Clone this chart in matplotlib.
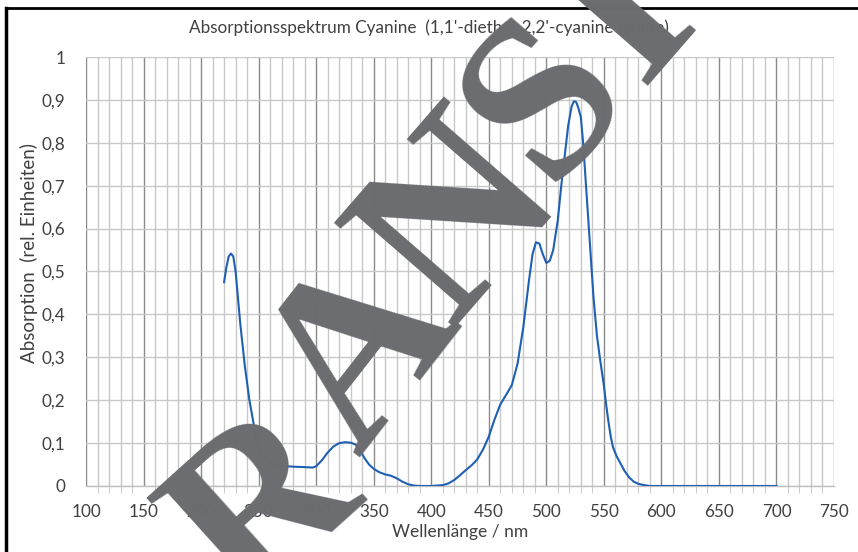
import matplotlib
matplotlib.use("Agg")
import matplotlib.pyplot as plt
from matplotlib.ticker import MultipleLocator, FuncFormatter
from matplotlib.lines import Line2D

# ---- data ----
wavelength_nm = [220, 222, 224, 226, 228, 230, 232, 234, 236, 238, 240, 242, 244, 246, 248,
                 250, 252, 255, 258, 262, 266, 270, 280, 290, 297, 300, 305, 310, 315, 320,
                 325, 330, 334, 338, 342, 346, 350, 355, 360, 365, 370, 375, 380, 385, 390,
                 400, 410, 415, 420, 425, 430, 435, 440, 445, 450, 455, 460, 465, 470, 475,
                 480, 485, 488, 491, 494, 497, 500, 503, 506, 510, 513, 516, 519, 522, 524,
                 526, 528, 530, 532, 535, 538, 541, 544, 547, 550, 552, 554, 556, 558, 561,
                 564, 568, 572, 576, 580, 585, 590, 600, 650, 700]
absorption = [0.475, 0.51, 0.535, 0.542, 0.535, 0.50, 0.44, 0.38, 0.33, 0.28, 0.24, 0.20, 0.17, 0.14, 0.11,
              0.09, 0.075, 0.065, 0.058, 0.052, 0.049, 0.047, 0.045, 0.044, 0.043, 0.046, 0.060, 0.078, 0.092, 0.100,
              0.102, 0.101, 0.097, 0.085, 0.065, 0.050, 0.040, 0.032, 0.027, 0.024, 0.018, 0.010, 0.004, 0.001, 0.0,
              0.0, 0.002, 0.006, 0.014, 0.025, 0.037, 0.048, 0.062, 0.085, 0.115, 0.155, 0.190, 0.212, 0.235, 0.285,
              0.37, 0.48, 0.54, 0.568, 0.565, 0.540, 0.520, 0.525, 0.550, 0.62, 0.70, 0.77, 0.84, 0.885, 0.897,
              0.895, 0.88, 0.86, 0.80, 0.68, 0.56, 0.44, 0.35, 0.29, 0.235, 0.19, 0.15, 0.115, 0.09, 0.07,
              0.055, 0.035, 0.02, 0.01, 0.005, 0.002, 0.0, 0.0, 0.0, 0.0]

title_text = "Absorptionsspektrum Cyanine  (1,1'-diethyl-2,2'-cyanine iodide)"
x_label = "Wellenlänge / nm"
y_label = "Absorption  (rel. Einheiten)"
watermark_letters = ["R", "A", "N", "S", "I"]

plt.rcParams['font.family'] = ['Lato', 'DejaVu Sans']

fig = plt.figure(figsize=(8.58, 5.52), dpi=100)
ax = fig.add_axes([86/858, 1-486/552, (834-86)/858, (486-57)/552])

ax.plot(wavelength_nm, absorption, color='#1f5fb4', lw=1.5, zorder=3)

ax.set_xlim(100, 750)
ax.set_ylim(0, 1)
ax.xaxis.set_major_locator(MultipleLocator(50))
ax.xaxis.set_minor_locator(MultipleLocator(10))
ax.yaxis.set_major_locator(MultipleLocator(0.1))
ax.yaxis.set_major_formatter(FuncFormatter(lambda v, p: ('%g' % round(v, 1)).replace('.', ',')))

ax.grid(which='minor', axis='x', color='#c8c8c8', lw=1.0, zorder=0)
ax.grid(which='major', axis='x', color='#8a8a8a', lw=1.0, zorder=1)
ax.grid(which='major', axis='y', color='#c8c8c8', lw=1.0, zorder=0)

for s in ['top', 'right', 'left']:
    ax.spines[s].set_visible(False)
ax.spines['bottom'].set_color('#bfbfbf')
ax.spines['bottom'].set_linewidth(1.0)

ax.tick_params(axis='x', which='both', length=5, color='#bfbfbf', direction='out',
               labelsize=12.3, labelcolor='#404040', pad=9)
ax.tick_params(axis='x', which='major', length=0, pad=13)
ax.tick_params(axis='y', which='both', length=0, labelsize=12.3, labelcolor='#404040', pad=15)

ax.set_xlabel(x_label, fontsize=12.5, color='#404040', labelpad=3)
ax.set_ylabel(y_label, fontsize=13.5, color='#404040')
ax.yaxis.set_label_coords(-0.064, 0.543)
fig.text(0.5, 1-28/552, title_text, ha='center', va='center', fontsize=12.3, color='#404040')

# figure frame (left and top edges)
fig.add_artist(Line2D([6/858, 6/858], [0, 1-8/552], transform=fig.transFigure, color='black', lw=2.5))
fig.add_artist(Line2D([6/858, 1], [1-8/552, 1-8/552], transform=fig.transFigure, color='black', lw=2.0))

# watermark letters (baseline-centre anchors in pixels, per-letter rotation)
wm_px = [(304, 554), (410, 390), (508, 262), (590, 138), (670, 52)]
wm_rot = [42, 52, 49, 49, 49]
wm_size = [165, 170, 175, 165, 165]
for ch, (px, py), rot, fs in zip(watermark_letters, wm_px, wm_rot, wm_size):
    fig.text(px/858, 1-py/552, ch, rotation=rot, rotation_mode='anchor', ha='center', va='baseline',
             fontsize=fs, family='Liberation Serif', weight='bold', color='#6b6c70', zorder=10)

fig.savefig('out.png', dpi=100)
